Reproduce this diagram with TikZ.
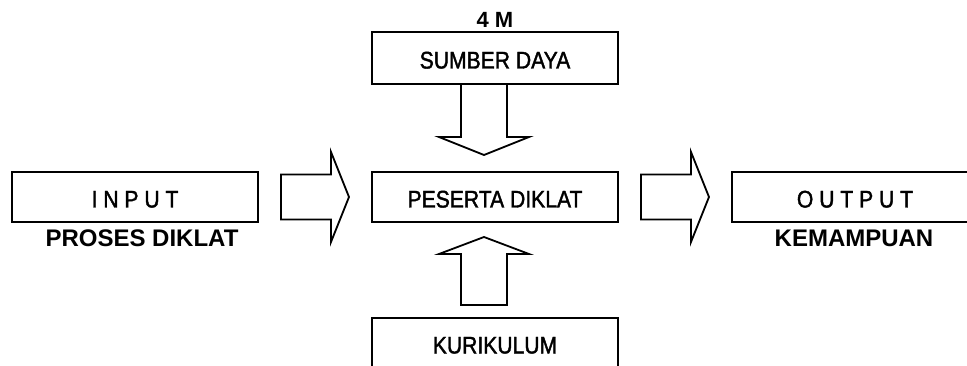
\documentclass[tikz,border=0pt]{standalone}
\usepackage{fontspec}
\setmainfont{Liberation Sans}
\newfontfamily\narrowfont[FakeStretch=0.88,FakeBold=1.6]{Liberation Sans}
\usetikzlibrary{positioning,calc}

\begin{document}
\begin{tikzpicture}[x=1pt,y=1pt]

% definitions
\tikzstyle{box} = [rectangle, minimum width=246pt, minimum height=50pt, inner sep=0pt, outer sep=0pt, text centered, draw=black, line width=2pt, font=\narrowfont\fontsize{24}{28}\selectfont, text height=21pt, text depth=0pt]

\tikzstyle{caption} = [inner sep=0pt, outer sep=0pt, font=\bfseries\fontsize{24}{28}\selectfont]

\tikzstyle{blockarrow} = [draw=black, fill=white, line width=1.8pt, line join=miter]

\useasboundingbox (0,0) rectangle (967,-366);

% the graph
\node (in) [box] at (135,-197) {I N P U T};

\node (peserta) [box] at (495,-197) {PESERTA DIKLAT};

\node (sumber) [box, minimum height=52pt] at (495,-58) {SUMBER DAYA};

\node (kurikulum) [box] at (495,-343) {KURIKULUM};

\node (out) [box] at (855,-197) {O U T P U T};

\node (proses) [caption, below=8pt of in, xshift=7pt] {PROSES DIKLAT};

\node (kemampuan) [caption, below=8pt of out, xshift=-1pt] {KEMAMPUAN};

\node (empatm) [caption, above=4pt of sumber, font=\bfseries\fontsize{22}{26}\selectfont] {4 M};

\draw [blockarrow] ($(in.east)+(23,22.5)$) -- ++(50,0) -- ++(0,22.5) -- ($(peserta.west)+(-23,0)$) -- ($(in.east)+(73,-45)$) -- ++(0,22.5) -- ++(-50,0) -- cycle;

\draw [blockarrow] ($(peserta.east)+(23,22.5)$) -- ++(50,0) -- ++(0,22.5) -- ($(out.west)+(-23,0)$) -- ($(peserta.east)+(73,-45)$) -- ++(0,22.5) -- ++(-50,0) -- cycle;

\draw [blockarrow] ($(sumber.south)+(-34,0)$) -- ++(0,-53) -- ++(-22,0) -- ($(peserta.north)+(-11,17)$) -- ($(sumber.south)+(34,-53)$) -- ++(-22,0) -- ++(0,53) -- cycle;

\draw [blockarrow] ($(kurikulum.north)+(-34,13)$) -- ++(0,51) -- ++(-22,0) -- ($(peserta.south)+(-11,-15)$) -- ($(kurikulum.north)+(34,64)$) -- ++(-22,0) -- ++(0,-51) -- cycle;

\end{tikzpicture}
\end{document}
